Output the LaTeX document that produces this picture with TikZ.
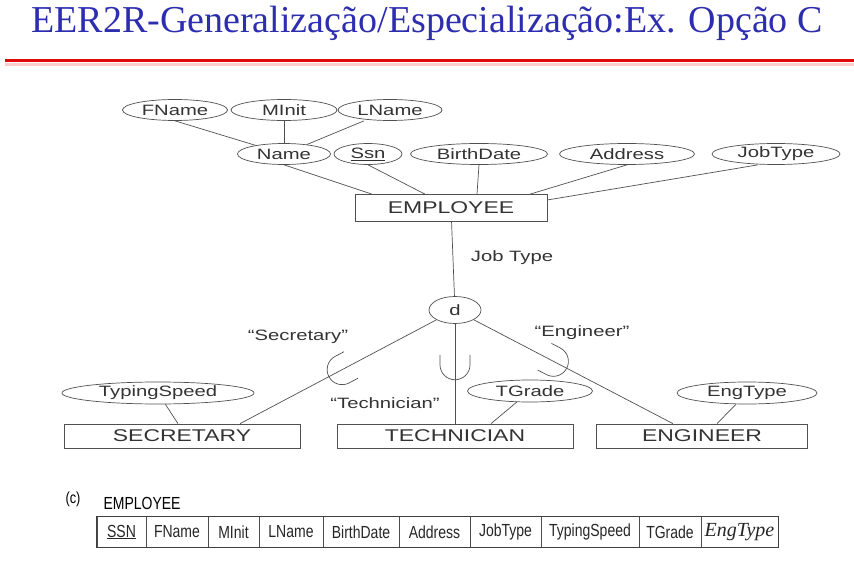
\documentclass[tikz,border=0pt]{standalone}
\usepackage{fontspec}
\setmainfont{Liberation Serif}
\newfontfamily\erfont{Liberation Sans}[FakeStretch=1.35]
\newfontfamily\tabfont{Liberation Sans}[FakeStretch=0.8]
\usetikzlibrary{shapes.geometric, positioning, fit, calc}
\definecolor{titleblue}{RGB}{45,45,175}
\definecolor{rulered}{RGB}{225,10,10}
\definecolor{inkgray}{RGB}{80,80,80}

\begin{document}
\begin{tikzpicture}[x=1pt, y=-1pt,
        attr/.style={ellipse, draw=inkgray, line width=0.7pt, inner sep=0pt, minimum height=21pt, text=black!80, font=\erfont\fontsize{15}{17}\selectfont},
        entity/.style={rectangle, draw=inkgray, line width=0.7pt, inner sep=0pt, minimum height=24pt, text=black!80, font=\erfont\fontsize{17}{19}\selectfont},
        lbl/.style={text=black!80, font=\erfont\fontsize{15}{17}\selectfont},
        cell/.style={rectangle, draw=black!70, inner sep=0pt, minimum height=31pt, text=black!85, font=\tabfont\fontsize{17.5}{19}\selectfont},
        line/.style={draw=inkgray, line width=0.7pt},
        subcup/.pic={\draw[line] (-10pt,15pt) -- (0pt,15pt) arc[start angle=90, end angle=-90, radius=15pt] -- (-10pt,-15pt);}
    ]
        \useasboundingbox (0,0) rectangle (854,572);

        \node[font=\fontsize{38}{40}\selectfont, text=titleblue] (title) at (427,23) {EER2R-Generalização/Especialização:Ex. Opção C};
        \coordinate (ruleL) at (5,61);
        \coordinate (ruleR) at (854,61);
        \fill[red!20] ($(ruleL)+(0,2)$) rectangle ($(ruleR)+(0,5)$);
        \draw[rulered, line width=3pt] (ruleL) -- (ruleR);

        \node[attr, minimum width=105pt] (fname) at (175,110) {FName};
        \node[attr, minimum width=106pt] (minit) at (284,110) {MInit};
        \node[attr, minimum width=104pt] (lname) at (390,110) {LName};

        \node[attr, minimum width=93pt]  (name)  at (284,154) {Name};
        \node[attr, minimum width=68pt]  (ssn)   at (368,154) {\underline{Ssn}};
        \node[attr, minimum width=137pt] (bdate) at (479,154) {BirthDate};
        \node[attr, minimum width=135pt] (addr)  at (627,154) {Address};
        \node[attr, minimum width=128pt] (jobt)  at (776,154) {JobType};

        \node[entity, minimum width=192pt, minimum height=27pt] (emp) at (451,208) {EMPLOYEE};

        \node[attr, minimum width=52pt, minimum height=27pt] (d) at (455,310) {d};
        \node[lbl] (jtlbl) at (512,258) {Job Type};

        \node[attr, minimum width=192pt, minimum height=22pt] (typsp)   at (158,393) {TypingSpeed};
        \node[attr, minimum width=125pt, minimum height=22pt] (tgrade)  at (530,391) {TGrade};
        \node[attr, minimum width=140pt, minimum height=22pt] (engtype) at (747,393) {EngType};

        \node[entity, minimum width=236pt] (sec)  at (182,436) {SECRETARY};
        \node[entity, minimum width=236pt] (tech) at (455,436) {TECHNICIAN};
        \node[entity, minimum width=211pt] (eng)  at (702,436) {ENGINEER};

        \node[lbl] (seclbl)  at (298,337) {“Secretary”};
        \node[lbl] (englbl)  at (582,333) {“Engineer”};
        \node[lbl] (techlbl) at (385,403) {“Technician”};

        \draw[line] (fname.south) -- (name);
        \draw[line] (minit) -- (name);
        \draw[line] ([xshift=-26pt]lname.south) -- (name);

        \draw[line] (name.south) -- ([xshift=-79pt]emp.north);
        \draw[line] (ssn.south) -- ([xshift=-26pt]emp.north);
        \draw[line] (bdate.south) -- ([xshift=26pt]emp.north);
        \draw[line] (addr.south) -- ([xshift=79pt]emp.north);
        \draw[line] ([xshift=-18pt]jobt.south) -- ([yshift=8pt]emp.east);

        \draw[line] (emp) -- (d);

        \draw[line] (d) -- pic[pos=0.48, sloped, allow upside down]{subcup} ([xshift=58pt]sec.north);
        \draw[line] (d) -- pic[pos=0.41, sloped, allow upside down]{subcup} (tech);
        \draw[line] (d) -- pic[pos=0.40, sloped, allow upside down]{subcup} ([xshift=-29pt]eng.north);

        \draw[line] (typsp) -- ([xshift=-4pt]sec.north);
        \draw[line] (tgrade) -- ([xshift=36pt]tech.north);
        \draw[line] (engtype) -- ([xshift=15pt]eng.north);

        % relation schema (c)
        \node[anchor=west, font=\tabfont\fontsize{16}{18}\selectfont] (tagc) at (62,499) {(c)};
        \node[anchor=west, font=\tabfont\fontsize{17.5}{19}\selectfont] (tname) at (100,503) {EMPLOYEE};

        \node[cell, minimum width=49pt] (c_ssn)    at (121.5,532) {\underline{SSN}};
        \node[cell, minimum width=62pt] (c_fname)  at (177,532)   {FName};
        \node[cell, minimum width=51pt] (c_minit)  at (233.5,532) {MInit};
        \node[cell, minimum width=64pt] (c_lname)  at (291,532)   {LName};
        \node[cell, minimum width=76pt] (c_bdate)  at (361,532)   {BirthDate};
        \node[cell, minimum width=71pt] (c_addr)   at (434.5,532) {Address};
        \node[cell, minimum width=71pt] (c_jobt)   at (505.5,532) {JobType};
        \node[cell, minimum width=98pt] (c_typsp)  at (590,532)   {TypingSpeed};
        \node[cell, minimum width=62pt] (c_tgrade) at (670,532)   {TGrade};
        \node[cell, minimum width=77pt, font=\itshape\fontsize{20}{22}\selectfont] (c_engtype) at (739.5,532) {EngType};

        \node[draw=black!75, line width=1pt, inner sep=0pt, fit=(c_ssn) (c_engtype)] (tbl) {};

    \end{tikzpicture}
\end{document}
